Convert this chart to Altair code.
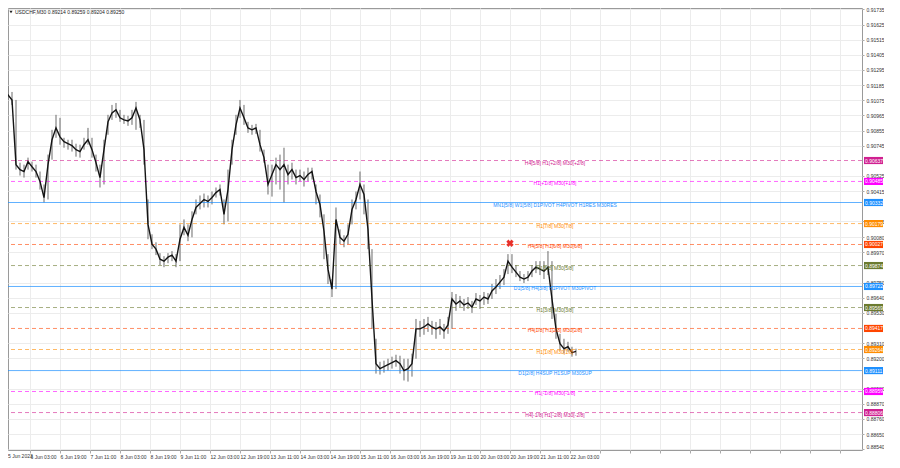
import json
import altair as alt
import pandas as pd

# ---------------- data ----------------
time_labels = ["5 Jun 2023", "6 Jun 03:00", "6 Jun 19:00", "7 Jun 11:00", "8 Jun 03:00",
               "8 Jun 19:00", "9 Jun 11:00", "12 Jun 03:00", "12 Jun 19:00", "13 Jun 11:00",
               "14 Jun 03:00", "14 Jun 19:00", "15 Jun 11:00", "16 Jun 03:00", "16 Jun 19:00",
               "19 Jun 11:00", "20 Jun 03:00", "20 Jun 19:00", "21 Jun 11:00", "22 Jun 03:00"]

# axis prices that stay readable (the others sit under the level boxes)
price_ticks = [0.91735, 0.91625, 0.91515, 0.91405, 0.91295, 0.91185, 0.91075, 0.90965,
               0.90855, 0.90745, 0.90525, 0.90415, 0.90195, 0.90080,
               0.89970, 0.89750, 0.89640, 0.89530, 0.89310, 0.89200,
               0.88980, 0.88870, 0.88760, 0.88650, 0.88540]

closes = [0.91077, 0.91098, 0.91113, 0.91077, 0.90607, 0.90571, 0.90557, 0.90629, 0.90592, 0.90557,
          0.90485, 0.90368, 0.90607, 0.90788, 0.90874, 0.90809, 0.90774, 0.90759, 0.90745, 0.90716,
          0.90702, 0.90752, 0.90788, 0.90716, 0.90621, 0.90513, 0.90716, 0.90918, 0.90983, 0.91005,
          0.90947, 0.90932, 0.90925, 0.90947, 0.91019, 0.90932, 0.90716, 0.90173, 0.90029, 0.89993,
          0.89920, 0.89906, 0.89935, 0.89950, 0.89906, 0.90065, 0.90151, 0.90094, 0.90209, 0.90296,
          0.90325, 0.90354, 0.90340, 0.90368, 0.90404, 0.90426, 0.90246, 0.90426, 0.90716, 0.90896,
          0.91019, 0.90947, 0.90874, 0.90860, 0.90874, 0.90752, 0.90658, 0.90463, 0.90535, 0.90607,
          0.90571, 0.90607, 0.90535, 0.90571, 0.90513, 0.90528, 0.90499, 0.90535, 0.90557, 0.90412,
          0.90318, 0.90123, 0.89848, 0.89703, 0.90209, 0.90079, 0.90051, 0.90101, 0.90282, 0.90354,
          0.90463, 0.90390, 0.90137, 0.89631, 0.89161, 0.89125, 0.89139, 0.89154, 0.89168, 0.89183,
          0.89161, 0.89111, 0.89125, 0.89161, 0.89414, 0.89414, 0.89428, 0.89450, 0.89428, 0.89414,
          0.89428, 0.89400, 0.89443, 0.89631, 0.89595, 0.89617, 0.89588, 0.89602, 0.89573, 0.89631,
          0.89617, 0.89645, 0.89631, 0.89689, 0.89718, 0.89754, 0.89790, 0.89906, 0.89862, 0.89826,
          0.89790, 0.89776, 0.89790, 0.89834, 0.89862, 0.89848, 0.89834, 0.89862, 0.89631, 0.89414,
          0.89306, 0.89270, 0.89284, 0.89241, 0.89250]

highs = [0.91149, 0.91164, 0.91179, 0.91135, 0.91077, 0.90621, 0.90607, 0.90658, 0.90629, 0.90607,
         0.90557, 0.90463, 0.90680, 0.90860, 0.90969, 0.90947, 0.90802, 0.90788, 0.90788, 0.90759,
         0.90752, 0.90802, 0.90874, 0.90802, 0.90680, 0.90607, 0.90788, 0.90969, 0.91041, 0.91055,
         0.91005, 0.90969, 0.90962, 0.91005, 0.91063, 0.90969, 0.90932, 0.90354, 0.90101, 0.90043,
         0.89964, 0.89942, 0.89964, 0.89979, 0.89957, 0.90173, 0.90209, 0.90173, 0.90268, 0.90354,
         0.90383, 0.90397, 0.90383, 0.90412, 0.90441, 0.90463, 0.90354, 0.90571, 0.90788, 0.90969,
         0.91077, 0.91041, 0.90918, 0.90896, 0.90903, 0.90860, 0.90716, 0.90607, 0.90607, 0.90658,
         0.90680, 0.90730, 0.90607, 0.90621, 0.90571, 0.90571, 0.90557, 0.90585, 0.90585, 0.90463,
         0.90390, 0.90246, 0.89957, 0.89776, 0.90296, 0.90137, 0.90094, 0.90173, 0.90354, 0.90412,
         0.90557, 0.90463, 0.90354, 0.89993, 0.89342, 0.89175, 0.89183, 0.89197, 0.89212, 0.89226,
         0.89219, 0.89197, 0.89197, 0.89234, 0.89486, 0.89472, 0.89486, 0.89501, 0.89472, 0.89464,
         0.89486, 0.89450, 0.89501, 0.89682, 0.89667, 0.89653, 0.89631, 0.89645, 0.89617, 0.89674,
         0.89660, 0.89682, 0.89674, 0.89740, 0.89776, 0.89805, 0.89848, 0.89957, 0.89957, 0.89877,
         0.89834, 0.89812, 0.89834, 0.89877, 0.89906, 0.89906, 0.89906, 0.89979, 0.89906, 0.89523,
         0.89378, 0.89342, 0.89320, 0.89284, 0.89270]

lows = [0.91055, 0.91063, 0.91077, 0.91041, 0.90571, 0.90528, 0.90513, 0.90571, 0.90557, 0.90513,
        0.90426, 0.90332, 0.90354, 0.90643, 0.90802, 0.90752, 0.90730, 0.90716, 0.90702, 0.90665,
        0.90658, 0.90716, 0.90752, 0.90658, 0.90557, 0.90441, 0.90463, 0.90824, 0.90932, 0.90947,
        0.90918, 0.90903, 0.90889, 0.90896, 0.90860, 0.90874, 0.90607, 0.90065, 0.89993, 0.89950,
        0.89877, 0.89862, 0.89891, 0.89906, 0.89862, 0.89906, 0.90094, 0.90051, 0.90079, 0.90246,
        0.90282, 0.90296, 0.90296, 0.90318, 0.90368, 0.90383, 0.90173, 0.90195, 0.90607, 0.90824,
        0.90947, 0.90896, 0.90838, 0.90824, 0.90831, 0.90702, 0.90621, 0.90390, 0.90375, 0.90463,
        0.90426, 0.90332, 0.90463, 0.90499, 0.90463, 0.90485, 0.90448, 0.90485, 0.90499, 0.90318,
        0.90224, 0.89920, 0.89740, 0.89645, 0.89703, 0.90029, 0.90007, 0.90029, 0.90173, 0.90282,
        0.90354, 0.90246, 0.89993, 0.89414, 0.89089, 0.89082, 0.89096, 0.89111, 0.89125, 0.89139,
        0.89089, 0.89039, 0.89031, 0.89067, 0.89197, 0.89356, 0.89371, 0.89392, 0.89371, 0.89342,
        0.89371, 0.89342, 0.89378, 0.89414, 0.89545, 0.89573, 0.89545, 0.89559, 0.89530, 0.89588,
        0.89559, 0.89588, 0.89595, 0.89631, 0.89667, 0.89703, 0.89732, 0.89812, 0.89819, 0.89790,
        0.89761, 0.89747, 0.89761, 0.89790, 0.89819, 0.89805, 0.89776, 0.89805, 0.89486, 0.89342,
        0.89256, 0.89234, 0.89248, 0.89212, 0.89219]

level_prices = [0.90637, 0.90485, 0.90332, 0.90179, 0.90027, 0.89874, 0.89722,
                0.89569, 0.89417, 0.89264, 0.89111, 0.88959, 0.88806]
level_texts = ["H4[5/8] H1[+2/8] M30[+2/8]", "H1[+1/8] M30[+1/8]",
               "MN1[5/8] W1[5/8] D1PIVOT H4PIVOT H1RES M30RES", "H1[7/8] M30[7/8]",
               "H4[5/8] H1[6/8] M30[6/8]", "H1[5/8] M30[5/8]",
               "D1[5/8] H4[3/8] H1PIVOT M30PIVOT", "H1[3/8] M30[3/8]",
               "H4[1/8] H1[2/8] M30[2/8]", "H1[1/8] M30[1/8]",
               "D1[2/8] H4SUP H1SUP M30SUP", "H1[-1/8] M30[-1/8]",
               "H4[-1/8] H1[-2/8] M30[-2/8]"]
level_colors = ["#d02090", "#ff00ff", "#1e90ff", "#ff8c00", "#ff4500", "#6b7a2f", "#1e90ff",
                "#6b7a2f", "#ff4500", "#ff8c00", "#1e90ff", "#ff00ff", "#d02090"]
level_solid = [False, False, True, False, False, False, True, False, False, False, True, False, False]

header_text = "USDCHF,M30  0.89214 0.89259 0.89204 0.89250"
signal_bar = 544
signal_price = 0.90036

# ---------------- layout constants ----------------
BARS_PER_LABEL = 32
SAMPLE_STEP = 64 / 15
X_MIN, X_MAX = 8.53, 919.5
Y_MIN, Y_MAX = 0.88534, 0.91745
W, H = 854, 442
FONT = "Liberation Sans"
GRID = "#ececec"

n = len(closes)
candles = pd.DataFrame({
    "bar": [i * SAMPLE_STEP for i in range(n)],
    "close": closes, "high": highs, "low": lows,
})
levels = pd.DataFrame({
    "price": level_prices, "label": level_texts, "color": level_colors, "solid": level_solid,
})
signal = pd.DataFrame({"bar": [signal_bar], "price": [signal_price]})

x_scale = alt.Scale(domain=[X_MIN, X_MAX], nice=False, zero=False)
y_scale = alt.Scale(domain=[Y_MIN, Y_MAX], nice=False, zero=False)

label_expr = json.dumps(time_labels) + "[datum.value / %d] || ''" % BARS_PER_LABEL
x_ticks = list(range(BARS_PER_LABEL, int(X_MAX), BARS_PER_LABEL))

x_axis = alt.Axis(values=x_ticks, labelExpr=label_expr, labelAlign="left", labelFontSize=5,
                  labelFont=FONT, labelPadding=1, tickSize=3, tickColor="#aaa",
                  grid=True, gridColor=GRID, domain=False, title=None,
                  labelColor="#333", labelFlush=False, labelOverlap=False)
y_axis = alt.Axis(orient="right", values=price_ticks, format=".5f", labelFontSize=5,
                  labelFont=FONT, labelPadding=2, tickSize=2, tickColor="#aaa",
                  grid=True, gridColor=GRID, domain=False, title=None,
                  labelOverlap=False, labelColor="#333",
                  labelFlush=True, labelFlushOffset=0)

X = lambda f: alt.X(f, scale=x_scale, axis=x_axis)
Y = lambda f: alt.Y(f, scale=y_scale, axis=y_axis)

base = alt.Chart(candles)

wicks = base.mark_rule(color="#6a6a6a", strokeWidth=1, clip=True).encode(
    x=X("bar:Q"), y=Y("low:Q"), y2="high:Q",
)
close_line = base.mark_line(color="#141414", strokeWidth=1.4, clip=True).encode(
    x=X("bar:Q"), y=Y("close:Q"),
)

lv = alt.Chart(levels)
solid_rules = lv.transform_filter("datum.solid").mark_rule(strokeWidth=1, opacity=0.7).encode(
    y=Y("price:Q"), color=alt.Color("color:N", scale=None),
)
dashed_rules = lv.transform_filter("!datum.solid").mark_rule(
    strokeWidth=1, opacity=0.6, strokeDash=[4, 3]).encode(
    y=Y("price:Q"), color=alt.Color("color:N", scale=None),
)
level_labels = lv.mark_text(fontSize=5, font=FONT, align="center", baseline="middle", dy=2).encode(
    x=alt.value(547), y=Y("price:Q"), text="label:N",
    color=alt.Color("color:N", scale=None),
)
boxes = lv.transform_calculate(
    lo="datum.price - 0.00026", hi="datum.price + 0.00026"
).mark_rect().encode(
    x=alt.value(W + 2), x2=alt.value(W + 21),
    y=Y("lo:Q"), y2="hi:Q",
    color=alt.Color("color:N", scale=None),
)
box_text = lv.mark_text(fontSize=5, font=FONT, align="left", baseline="middle", color="white").encode(
    x=alt.value(W + 3), y=Y("price:Q"),
    text=alt.Text("price:Q", format=".5f"),
)

marker = alt.Chart(signal).mark_point(shape="cross", angle=45, filled=True, size=55,
                                      color="#e8302a", opacity=1).encode(
    x=X("bar:Q"), y=Y("price:Q"),
)

head = pd.DataFrame({"t": [header_text], "first": [time_labels[0]]})
head_tri = alt.Chart(head).mark_point(shape="triangle-down", filled=True, size=10,
                                      color="#222", opacity=1).encode(
    x=alt.value(3), y=alt.value(4))
head_txt = alt.Chart(head).mark_text(fontSize=5, font=FONT, align="left", baseline="middle",
                                     color="#222").encode(
    x=alt.value(7), y=alt.value(4), text="t:N")
first_label = alt.Chart(head).mark_text(fontSize=5, font=FONT, align="left", baseline="top",
                                        color="#333").encode(
    x=alt.value(0), y=alt.value(H + 4), text="first:N")

chart = alt.layer(
    wicks, solid_rules, dashed_rules, close_line, level_labels, boxes, box_text,
    marker, head_tri, head_txt, first_label,
).properties(
    width=W, height=H,
    autosize=alt.AutoSizeParams(type="none"),
    padding={"left": 0, "top": 0, "right": 22, "bottom": 9},
    background="white",
).configure_view(stroke="#9a9a9a", strokeWidth=1)

chart.save("out.html", embed_options={"renderer": "svg", "actions": False})
